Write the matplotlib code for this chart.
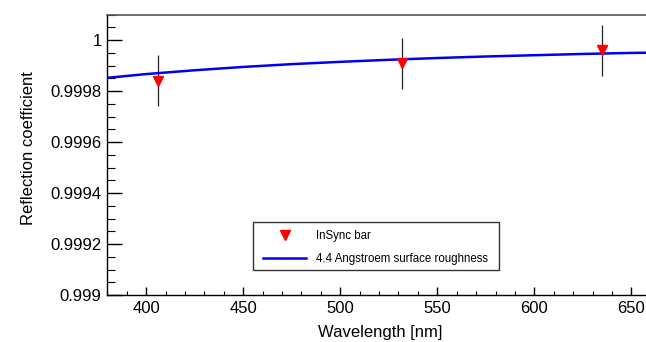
import numpy as np
import matplotlib
matplotlib.use("Agg")
import matplotlib.pyplot as plt
from matplotlib.ticker import MultipleLocator, FuncFormatter
from matplotlib.lines import Line2D
from matplotlib.patches import Rectangle

plt.rcParams['font.family'] = ['Liberation Sans', 'DejaVu Sans']

# measured points (InSync bar)
wl_meas = [406, 532, 635]
r_meas = [0.99984, 0.99991, 0.99996]
r_err = [0.0001, 0.0001, 0.0001]

# 4.4 Angstroem roughness curve
wl_curve = [381, 400, 425, 450, 475, 500, 525, 550, 575, 600, 625, 650, 660]
r_curve = [0.999853, 0.999867, 0.999882, 0.999895, 0.999906, 0.999915,
           0.999923, 0.999930, 0.999936, 0.999941, 0.999946, 0.999950, 0.999951]

fig = plt.figure(figsize=(6.46, 3.42), dpi=100)
ax = fig.add_axes([0.1661, 0.1374, 0.8339, 0.8196])

ax.plot(wl_curve, r_curve, color='#0000ee', lw=1.8, zorder=3)
ax.errorbar(wl_meas, r_meas, yerr=r_err, fmt='none', ecolor='#222222',
            elinewidth=0.9, zorder=2)
ax.plot(wl_meas, r_meas, 'v', color='red', ms=6.5, mec='red', zorder=4)

ax.set_xlim(380, 657.5)
ax.set_ylim(0.999, 1.0001)

ax.xaxis.set_major_locator(MultipleLocator(50))
ax.xaxis.set_minor_locator(MultipleLocator(10))
ax.yaxis.set_major_locator(MultipleLocator(0.0002))
ax.yaxis.set_minor_locator(MultipleLocator(0.00005))
ax.yaxis.set_major_formatter(FuncFormatter(lambda v, p: '%g' % round(v, 6)))

ax.tick_params(axis='x', which='major', direction='in', length=5.5, width=1, labelsize=12, pad=4)
ax.tick_params(axis='x', which='minor', direction='in', length=2.6, width=0.8)
ax.tick_params(axis='y', which='major', direction='in', length=10.8, width=1, labelsize=12, pad=4)
ax.tick_params(axis='y', which='minor', direction='in', length=5.5, width=0.8)

ax.spines['right'].set_visible(False)
ax.spines['top'].set_color('#555555')
ax.spines['top'].set_linewidth(1.2)
for s in ['left', 'bottom']:
    ax.spines[s].set_linewidth(1)

ax.set_xlabel('Wavelength [nm]', fontsize=12)
ax.set_ylabel('Reflection coefficient', fontsize=12)
ax.xaxis.set_label_coords(0.5068, -0.107)
ax.yaxis.set_label_coords(-0.133, 0.524)

# legend box
ax.add_patch(Rectangle((0.271, 0.0881), 0.4567, 0.1723, transform=ax.transAxes,
                       fill=False, ec='#333333', lw=1, zorder=5))
handles = [Line2D([], [], ls='none', marker='v', color='red', ms=6.5),
           Line2D([], [], color='#0000ee', lw=1.8)]
leg = ax.legend(handles, ['InSync bar', '4.4 Angstroem surface roughness'],
                bbox_to_anchor=(0.2896, 0.232), loc='upper left',
                fontsize=8.3, frameon=False, handlelength=3.68,
                handletextpad=0.87, labelspacing=0.94, borderpad=0,
                borderaxespad=0)

fig.savefig('out.png', dpi=100)
